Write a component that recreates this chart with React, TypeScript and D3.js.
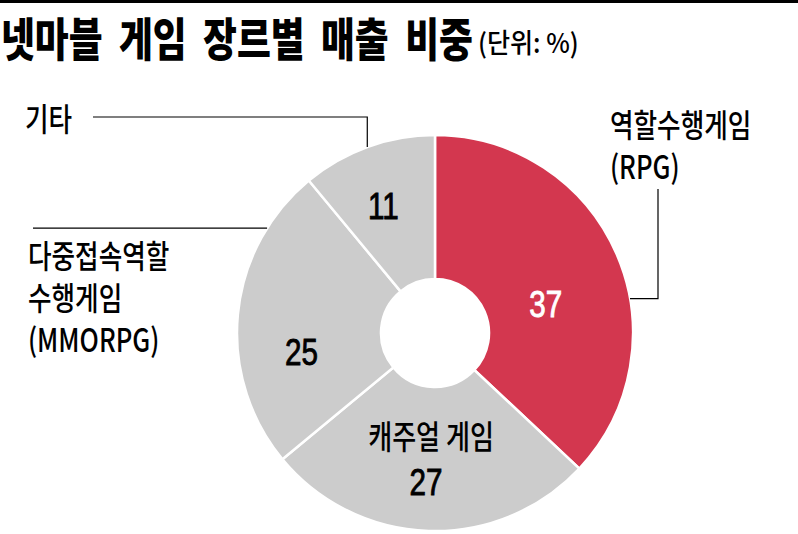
import React, { useMemo } from 'react';
import * as d3 from 'd3';

// chart data
const genres = ['역할수행게임(RPG)', '캐주얼 게임', '다중접속역할수행게임(MMORPG)', '기타'];
const shares = [37, 27, 25, 11];
const insideNames = ['', '캐주얼 게임', '', ''];
const outsideNames = [['역할수행게임', '(RPG)'], [], ['다중접속역할', '수행게임', '(MMORPG)'], ['기타']];
const title = '넷마블 게임 장르별 매출 비중';
const unit = '(단위: %)';

// layout
const W = 798;
const H = 534;
const cx = 435;
const cy = 333;
const outerR = 198;
const innerR = 54;
const RED = '#d3374f';
const GRAY = '#cccccc';
const KR = '"Noto Sans CJK KR", "Noto Sans", sans-serif';
const NUM = '"Liberation Sans", Arial, sans-serif';

// manual nudges of the value labels off the slice centroid
const nudges: [number, number][] = [[-5, 21], [0, 0], [-8, 31], [-9, -8]];
// outside label blocks: x, first baseline, line gap
const outsideBlocks: [number, number, number][] = [[610, 137, 42], [0, 0, 0], [28, 268, 42], [25, 131, 0]];
// leader lines: angle on the rim (deg) and the path after it
const leaders: { angle: number; rest: string }[] = [
	{ angle: 80, rest: 'H 658 V 189' },
	{ angle: 0, rest: '' },
	{ angle: -58, rest: 'H 33' },
	{ angle: -20, rest: 'V 117 H 93' },
];

const Condensed: React.FC<{ x: number; y: number; sx: number; size: number; family: string; weight?: number | string; fill?: string; anchor?: string; text: string; wordSpacing?: number; thicken?: number }> = ({ x, y, sx, size, family, weight = 400, fill = '#000', anchor = 'start', text, wordSpacing, thicken }) => (
	<text
		transform={`translate(${x},${y}) scale(${sx},1)`}
		fontFamily={family}
		fontSize={size}
		fontWeight={weight}
		fill={fill}
		stroke={thicken ? fill : undefined}
		strokeWidth={thicken}
		textAnchor={anchor}
		style={wordSpacing ? { wordSpacing: `${wordSpacing}px` } : undefined}
	>{text}</text>
);

const App: React.FC = () => {
	const arcs = useMemo(() => d3.pie<number>().sort(null).value(d => d)(shares), []);
	const arc = useMemo(() => d3.arc<d3.PieArcDatum<number>>().innerRadius(innerR).outerRadius(outerR), []);

	const rim = (deg: number): [number, number] => {
		const a = (deg * Math.PI) / 180;
		return [cx + outerR * Math.sin(a), cy - outerR * Math.cos(a)];
	};

	return (
		<svg width={W} height={H} viewBox={`0 0 ${W} ${H}`} style={{ position: 'absolute', left: 0, top: 0, background: '#fff' }}>
			<rect x={0} y={0} width={W} height={3} fill="#000" />
			<Condensed x={1} y={56} sx={0.8} size={46} family={KR} weight={900} text={title} wordSpacing={10} />
			<Condensed x={478} y={53} sx={0.93} size={27} family={KR} weight={500} text={unit} />

			<g transform={`translate(${cx},${cy})`}>
				{arcs.map((a, i) => (
					<path key={genres[i]} d={arc(a) ?? ''} fill={i === 0 ? RED : GRAY} stroke="#fff" strokeWidth={2.5} />
				))}
			</g>

			{arcs.map((a, i) => {
				const [px, py] = arc.centroid(a);
				const x = cx + px + nudges[i][0];
				const y = cy + py + nudges[i][1];
				const fill = i === 0 ? '#fff' : '#000';
				if (insideNames[i]) {
					return (
						<g key={`v${i}`}>
							<Condensed x={x} y={y - 10} sx={0.79} size={33} family={KR} weight={500} anchor="middle" text={insideNames[i]} />
							<Condensed x={x - 5} y={y + 36} sx={0.8} size={37} family={NUM} anchor="middle" fill={fill} thicken={0.9} text={String(shares[i])} />
						</g>
					);
				}
				return <Condensed key={`v${i}`} x={x} y={y + 13} sx={0.8} size={37} family={NUM} anchor="middle" fill={fill} thicken={0.9} text={String(shares[i])} />;
			})}

			{leaders.map((l, i) => {
				if (!outsideNames[i].length) return null;
				const p = rim(l.angle);
				return <path key={`l${i}`} d={`M ${p[0]} ${p[1]} ${l.rest}`} fill="none" stroke="#000" strokeWidth={1.2} />;
			})}

			{outsideNames.map((lines, i) => lines.map((t, j) => (
				<Condensed key={`o${i}-${j}`} x={outsideBlocks[i][0]} y={outsideBlocks[i][1] + j * outsideBlocks[i][2]} sx={0.8} size={32} family={KR} weight={500} text={t} />
			)))}
		</svg>
	);
};

export default App;
